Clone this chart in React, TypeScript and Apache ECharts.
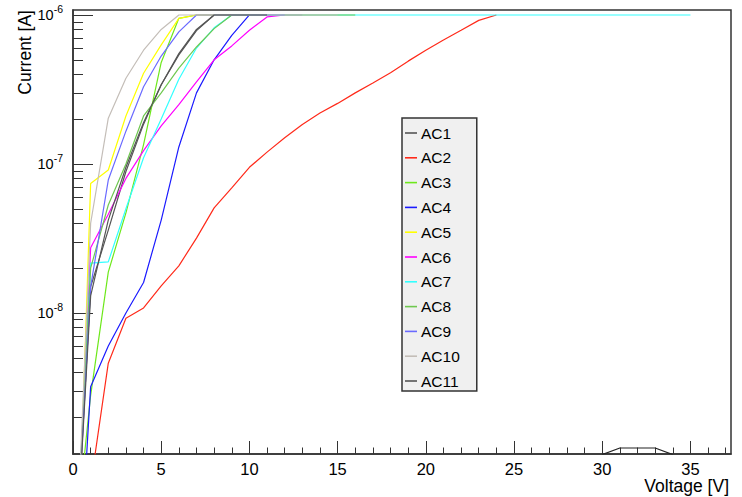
import React, { useEffect, useRef } from 'react';
import * as echarts from 'echarts';

const voltages = [0, 1, 2, 3, 4, 5, 6, 7, 8, 9, 10, 11, 12, 13, 14, 15, 16, 17, 18, 19, 20, 21, 22, 23, 24, 25, 26, 27, 28, 29, 30, 31, 32, 33, 34, 35];

const seriesNames = ['AC1', 'AC2', 'AC3', 'AC4', 'AC5', 'AC6', 'AC7', 'AC8', 'AC9', 'AC10', 'AC11'];

const ac1 = [1e-10, 1.5e-8, 3.6e-8, 8.9e-8, 1.85e-7, 3.4e-7, 5.4e-7, 7.85e-7, 1e-6, 1e-6, 1e-6];
const ac2 = [3e-10, 7e-10, 4.6e-9, 9.2e-9, 1.08e-8, 1.52e-8, 2.07e-8, 3.18e-8, 5.07e-8, 6.9e-8, 9.5e-8, 1.2e-7, 1.5e-7, 1.84e-7, 2.2e-7, 2.55e-7, 3.0e-7, 3.5e-7, 4.1e-7, 4.9e-7, 5.8e-7, 6.8e-7, 7.9e-7, 9.2e-7, 1e-6];
const ac3 = [2e-10, 2.8e-9, 1.88e-8, 4.7e-8, 1.35e-7, 4.8e-7, 9.5e-7, 1e-6, 1e-6, 1e-6, 1e-6];
const ac4 = [3e-11, 3.2e-9, 6.0e-9, 1.0e-8, 1.6e-8, 4.2e-8, 1.3e-7, 3.0e-7, 5.0e-7, 7.3e-7, 1e-6, 1e-6];
const ac5 = [2e-11, 7.4e-8, 9.1e-8, 2.1e-7, 4.06e-7, 6.3e-7, 9.5e-7, 1e-6, 1e-6];
const ac6 = [6e-11, 2.74e-8, 4.6e-8, 8e-8, 1.23e-7, 1.8e-7, 2.5e-7, 3.55e-7, 5e-7, 6.2e-7, 7.9e-7, 9.7e-7, 1e-6, 1e-6];
const ac7 = [8e-11, 2.16e-8, 2.2e-8, 5.0e-8, 1.1e-7, 2.0e-7, 3.7e-7, 6.0e-7, 8.2e-7, 1e-6, 1e-6, 1e-6, 1e-6, 1e-6, 1e-6, 1e-6, 1e-6, 1e-6, 1e-6, 1e-6, 1e-6, 1e-6, 1e-6, 1e-6, 1e-6, 1e-6, 1e-6, 1e-6, 1e-6, 1e-6, 1e-6, 1e-6, 1e-6, 1e-6, 1e-6, 1e-6];
const ac8 = [1e-10, 2.0e-8, 5.3e-8, 1.0e-7, 2.1e-7, 3.0e-7, 4.4e-7, 6.1e-7, 8.1e-7, 1e-6, 1e-6, 1e-6, 1e-6, 1e-6, 1e-6, 1e-6, 1e-6];
const ac9 = [1e-10, 1.5e-8, 7.8e-8, 1.66e-7, 3.3e-7, 5.3e-7, 7.7e-7, 1e-6, 1e-6, 1e-6, 1e-6, 1e-6, 1e-6];
const ac10 = [7e-11, 4e-8, 2.03e-7, 3.76e-7, 5.8e-7, 8e-7, 1e-6, 1e-6, 1e-6, 1e-6, 1e-6, 1e-6, 1e-6, 1e-6, 1e-6, 1e-6];
const ac11 = [1e-10, 1.3e-8, 4.2e-8, 9.5e-8, 1.9e-7, 3.4e-7, 5.5e-7, 8.0e-7, 1e-6, 1e-6, 1e-6, 1e-6];

const seriesValues = [ac1, ac2, ac3, ac4, ac5, ac6, ac7, ac8, ac9, ac10, ac11];
const seriesColors = ['#555555', '#ff2a1a', '#6ee81c', '#1a1aff', '#ffff00', '#ff00ff', '#33ffff', '#6fc850', '#6a6aff', '#c4beb8', '#555555'];

const extraVoltages = [30, 31, 32, 33, 34];
const extraCurrents = [1.12e-9, 1.24e-9, 1.24e-9, 1.24e-9, 1.12e-9];

const xMajorTicks = [0, 5, 10, 15, 20, 25, 30, 35];
const xMinorTicks = [1, 2, 3, 4, 6, 7, 8, 9, 11, 12, 13, 14, 16, 17, 18, 19, 21, 22, 23, 24, 26, 27, 28, 29, 31, 32, 33, 34, 36, 37];
const yMajorTicks = [1e-8, 1e-7, 1e-6];
const yMinorTicks = [2e-9, 3e-9, 4e-9, 5e-9, 6e-9, 7e-9, 8e-9, 9e-9, 2e-8, 3e-8, 4e-8, 5e-8, 6e-8, 7e-8, 8e-8, 9e-8, 2e-7, 3e-7, 4e-7, 5e-7, 6e-7, 7e-7, 8e-7, 9e-7];

const X_MIN = 0;
const X_MAX = 37.3;
const Y_MIN = 1.13e-9;
const Y_MAX = 1.08e-6;

const FONT = "'Liberation Sans', Arial, Helvetica, sans-serif";
const AXIS_COLOR = '#333333';

export default function App() {
  const ref = useRef<HTMLDivElement>(null);

  useEffect(() => {
    if (!ref.current) return;
    const chart = echarts.init(ref.current, undefined, { renderer: 'svg' });

    const lineSeries = seriesNames.map((name, k) => ({
      name,
      type: 'line',
      xAxisIndex: 0,
      yAxisIndex: 0,
      data: seriesValues[k].map((c, i) => [voltages[i], c]),
      showSymbol: false,
      symbol: 'none',
      color: seriesColors[k],
      lineStyle: { color: seriesColors[k], width: 1.2 },
      clip: true,
      z: 2 + k * 0.01,
    }));

    const extraSeries = {
      name: 'extra',
      type: 'line',
      xAxisIndex: 0,
      yAxisIndex: 0,
      data: extraVoltages.map((v, i) => [v, extraCurrents[i]]),
      showSymbol: false,
      symbol: 'none',
      color: '#222222',
      lineStyle: { color: '#222222', width: 1.2 },
      clip: true,
    };

    const option: any = {
      animation: false,
      backgroundColor: '#ffffff',
      grid: {
        left: 73,
        top: 10,
        right: 11,
        bottom: 43,
        show: true,
        borderColor: AXIS_COLOR,
        borderWidth: 1.5,
        backgroundColor: 'transparent',
        containLabel: false,
        outerBoundsMode: 'none',
      },
      legend: {
        data: seriesNames,
        orient: 'vertical',
        left: 402,
        top: 118,
        padding: [5, 17, 0, 3],
        itemGap: 4.8,
        itemWidth: 12,
        itemHeight: 1.6,
        icon: 'rect',
        backgroundColor: '#f0f0f0',
        borderColor: AXIS_COLOR,
        borderWidth: 1.5,
        selectedMode: false,
        textStyle: { fontFamily: FONT, fontSize: 15.5, color: '#000000', lineHeight: 20, padding: [0, 0, 0, -1] },
      },
      xAxis: [
        {
          type: 'value',
          min: X_MIN,
          max: X_MAX,
          position: 'bottom',
          splitLine: { show: false },
          axisLine: { show: true, onZero: false, lineStyle: { color: AXIS_COLOR, width: 1.5 } },
          axisTick: { show: true, inside: true, length: 13, customValues: xMajorTicks, lineStyle: { color: AXIS_COLOR, width: 1 } },
          axisLabel: { show: true, customValues: xMajorTicks, margin: 6, fontFamily: FONT, fontSize: 16.5, color: '#000000' },
        },
        {
          type: 'value',
          min: X_MIN,
          max: X_MAX,
          position: 'bottom',
          splitLine: { show: false },
          axisLine: { show: false, onZero: false },
          axisTick: { show: true, inside: true, length: 6.5, customValues: xMinorTicks, lineStyle: { color: AXIS_COLOR, width: 1 } },
          axisLabel: { show: false },
        },
      ],
      yAxis: [
        {
          type: 'log',
          min: Y_MIN,
          max: Y_MAX,
          position: 'left',
          splitLine: { show: false },
          axisLine: { show: true, onZero: false, lineStyle: { color: AXIS_COLOR, width: 1.5 } },
          axisTick: { show: true, inside: true, length: 20, customValues: yMajorTicks, lineStyle: { color: AXIS_COLOR, width: 1 } },
          axisLabel: {
            show: true,
            customValues: yMajorTicks,
            margin: 10,
            formatter: (v: number) => '{b|10}{s|' + Math.round(Math.log10(v)) + '}',
            rich: {
              b: { fontFamily: FONT, fontSize: 14.5, color: '#000000', lineHeight: 22 },
              s: { fontFamily: FONT, fontSize: 10.5, color: '#000000', verticalAlign: 'top' },
            },
          },
        },
        {
          type: 'log',
          min: Y_MIN,
          max: Y_MAX,
          position: 'left',
          splitLine: { show: false },
          axisLine: { show: false, onZero: false },
          axisTick: { show: true, inside: true, length: 10, customValues: yMinorTicks, lineStyle: { color: AXIS_COLOR, width: 1 } },
          axisLabel: { show: false },
        },
      ],
      graphic: [
        {
          type: 'text',
          x: 25,
          y: 10,
          rotation: Math.PI / 2,
          style: { text: 'Current [A]', fontFamily: FONT, fontSize: 17.5, fill: '#000000', align: 'right', verticalAlign: 'middle' },
        },
        {
          type: 'text',
          x: 729,
          y: 486,
          style: { text: 'Voltage [V]', fontFamily: FONT, fontSize: 17.5, fill: '#000000', align: 'right', verticalAlign: 'middle' },
        },
      ],
      series: [...lineSeries, extraSeries],
    };

    chart.setOption(option);
    return () => {
      chart.dispose();
    };
  }, []);

  return (
    <div
      ref={ref}
      style={{ position: 'absolute', left: 0, top: 0, width: 742, height: 497, background: '#ffffff' }}
    />
  );
}
